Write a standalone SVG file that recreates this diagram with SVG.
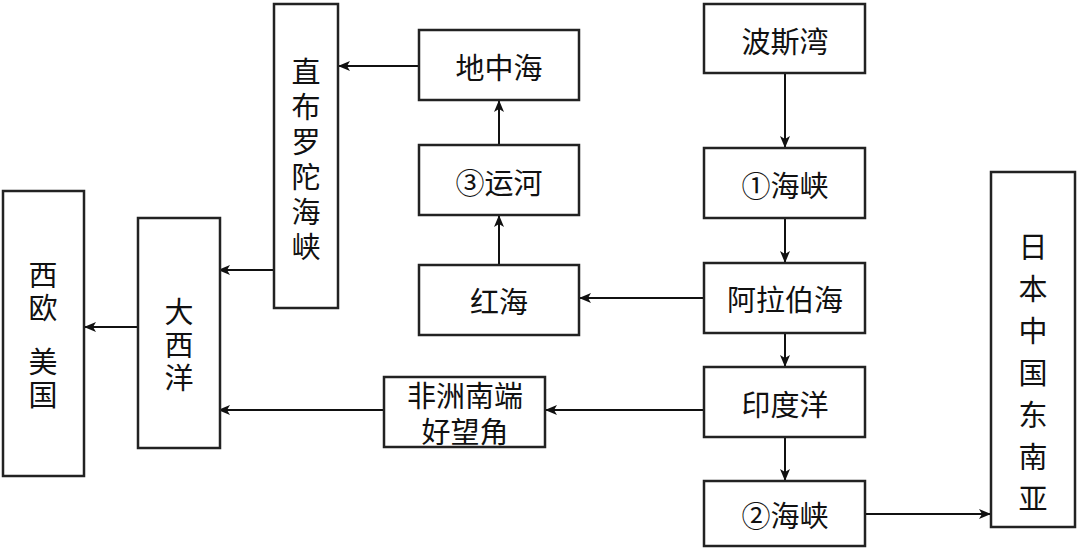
<svg xmlns="http://www.w3.org/2000/svg" width="1080" height="552" viewBox="0 0 1080 552">
<defs>
<style>
.b{fill:#fff;stroke:#222;stroke-width:2.5}
.t{font-family:"Noto Sans CJK SC",sans-serif;font-size:29px;fill:#111;text-anchor:middle;dominant-baseline:central}
.c{stroke:#111;stroke-width:2;fill:none;marker-end:url(#a)}
</style>
<marker id="a" viewBox="0 0 12 10" refX="11" refY="5" markerWidth="12" markerHeight="10" markerUnits="userSpaceOnUse" orient="auto"><path d="M0,0L12,5L0,10L3,5Z" fill="#111"/></marker>
</defs>
<rect width="1080" height="552" fill="#fff"/>
<g id="connectors">
<path class="c" d="M785,73V147"/>
<path class="c" d="M785,218V262"/>
<path class="c" d="M785,333V366"/>
<path class="c" d="M785,437V480"/>
<path class="c" d="M865,514H990"/>
<path class="c" d="M704,298H580"/>
<path class="c" d="M499,265V216"/>
<path class="c" d="M499,145V101"/>
<path class="c" d="M419,66H339"/>
<path class="c" d="M274,270H219"/>
<path class="c" d="M704,410H546"/>
<path class="c" d="M384,410H219"/>
<path class="c" d="M138,327H85"/>
</g>
<g id="bosiwan"><rect class="b" x="704" y="4" width="161" height="69"/><text class="t" x="785" y="40">波斯湾</text></g>
<g id="haixia1"><rect class="b" x="704" y="148" width="161" height="70"/><text class="t" x="785" y="184">①海峡</text></g>
<g id="alabohai"><rect class="b" x="704" y="263" width="161" height="70"/><text class="t" x="785" y="298">阿拉伯海</text></g>
<g id="yinduyang"><rect class="b" x="704" y="367" width="161" height="70"/><text class="t" x="785" y="403">印度洋</text></g>
<g id="haixia2"><rect class="b" x="704" y="481" width="161" height="65"/><text class="t" x="785" y="514">②海峡</text></g>
<g id="riben"><rect class="b" x="991" y="172" width="84" height="355"/>
<text class="t" x="1033" y="245">日</text><text class="t" x="1033" y="287">本</text><text class="t" x="1033" y="329">中</text><text class="t" x="1033" y="371">国</text><text class="t" x="1033" y="413">东</text><text class="t" x="1033" y="455">南</text><text class="t" x="1033" y="497">亚</text></g>
<g id="dizhonghai"><rect class="b" x="419" y="30" width="160" height="70"/><text class="t" x="499" y="66">地中海</text></g>
<g id="yunhe"><rect class="b" x="419" y="145" width="160" height="70"/><text class="t" x="499" y="181">③运河</text></g>
<g id="honghai"><rect class="b" x="419" y="265" width="160" height="70"/><text class="t" x="499" y="300">红海</text></g>
<g id="zhibuluotuo"><rect class="b" x="274" y="4" width="64" height="304"/>
<text class="t" x="306" y="70">直</text><text class="t" x="306" y="105">布</text><text class="t" x="306" y="140">罗</text><text class="t" x="306" y="175">陀</text><text class="t" x="306" y="210">海</text><text class="t" x="306" y="245">峡</text></g>
<g id="feizhou"><rect class="b" x="384" y="377" width="161" height="70"/><text class="t" x="465" y="394">非洲南端</text><text class="t" x="465" y="430">好望角</text></g>
<g id="daxiyang"><rect class="b" x="138" y="218" width="82" height="230"/>
<text class="t" x="179" y="310">大</text><text class="t" x="179" y="343">西</text><text class="t" x="179" y="376">洋</text></g>
<g id="xiou"><rect class="b" x="3" y="191" width="81" height="285"/>
<text class="t" x="43" y="273">西</text><text class="t" x="43" y="306">欧</text><text class="t" x="43" y="360">美</text><text class="t" x="43" y="393">国</text></g>
</svg>
